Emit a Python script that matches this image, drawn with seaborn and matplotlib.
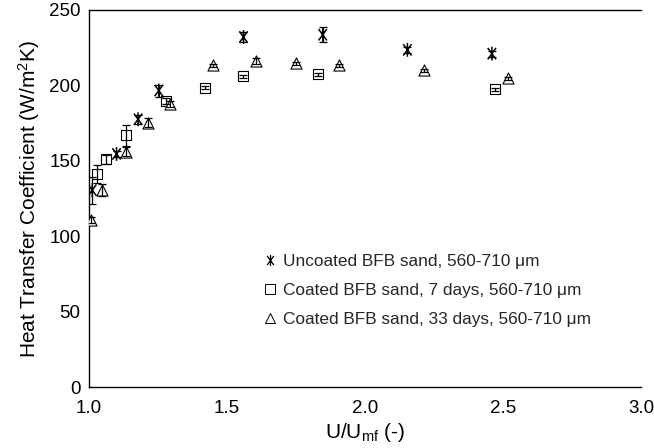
import matplotlib
matplotlib.use("Agg")
import matplotlib.pyplot as plt
from matplotlib.lines import Line2D
from matplotlib.path import Path
import seaborn as sns
import pandas as pd

# ---- data ----
unc_x = [1.012, 1.10, 1.178, 1.253, 1.56, 1.847, 2.154, 2.46]
unc_y = [130.5, 154.5, 177.5, 196.5, 232.0, 233.5, 223.5, 221.0]
unc_e = [9, 2, 3, 4, 3, 5, 2, 2]

c7_x = [1.03, 1.061, 1.136, 1.279, 1.42, 1.56, 1.83, 2.47]
c7_y = [141.0, 151.0, 167.0, 189.7, 198.4, 206.0, 207.4, 197.3]
c7_e = [6, 3, 7, 2, 1, 1, 1, 1]

c33_x = [1.009, 1.049, 1.133, 1.215, 1.293, 1.45, 1.606, 1.749, 1.905, 2.215, 2.52]
c33_y = [111.0, 130.5, 155.9, 175.1, 187.5, 213.4, 216.3, 214.5, 213.4, 210.0, 204.6]
c33_e = [2, 4, 3, 3, 2, 1, 2, 1, 1, 1, 1]

labels = ["Uncoated BFB sand, 560-710 \u03bcm",
          "Coated BFB sand, 7 days, 560-710 \u03bcm",
          "Coated BFB sand, 33 days, 560-710 \u03bcm"]
x_ticks = [1.0, 1.5, 2.0, 2.5, 3.0]
y_ticks = [0, 50, 100, 150, 200, 250]

sns.set_theme(style="white")
plt.rcParams["font.family"] = ["Liberation Sans", "DejaVu Sans"]
plt.rcParams["mathtext.fontset"] = "custom"
plt.rcParams["mathtext.rm"] = "Liberation Sans"
plt.rcParams["mathtext.it"] = "Liberation Sans"

# asterisk-like marker: vertical stroke plus an X
star = Path([(0, -1), (0, 1), (-0.6, -0.82), (0.6, 0.82), (-0.6, 0.82), (0.6, -0.82)],
            [Path.MOVETO, Path.LINETO, Path.MOVETO, Path.LINETO, Path.MOVETO, Path.LINETO])

fig = plt.figure(figsize=(6.54, 4.48), dpi=100)
ax = fig.add_axes([0.136, 0.136, 0.844, 0.842])

series = [
    (unc_x, unc_y, unc_e, star, 10, labels[0]),
    (c7_x, c7_y, c7_e, "s", 7, labels[1]),
    (c33_x, c33_y, c33_e, "^", 8, labels[2]),
]

for xs, ys, es, mk, ms, lab in series:
    df = pd.DataFrame({"x": xs, "y": ys, "e": es})
    if mk is star:
        sns.scatterplot(data=df, x="x", y="y", marker=mk, s=ms**2, facecolor="none",
                        edgecolor="black", linewidth=1.1, ax=ax, zorder=3, legend=False)
    else:
        sns.scatterplot(data=df, x="x", y="y", marker=mk, s=ms**2, facecolor="white",
                        edgecolor="black", linewidth=0.8, ax=ax, zorder=3, legend=False)
    ax.errorbar(df["x"], df["y"], yerr=df["e"], fmt="none", ecolor="black",
                elinewidth=0.9, capsize=3.2, capthick=0.9, zorder=4)

ax.set_xlim(1.0, 3.0)
ax.set_ylim(0, 250)
ax.set_xticks(x_ticks)
ax.set_xticklabels([f"{v:.1f}" for v in x_ticks])
ax.set_yticks(y_ticks)
ax.tick_params(axis="both", direction="out", length=5, width=1, color="black",
               labelsize=13.5, labelcolor="black")
ax.tick_params(axis="x", pad=4)
ax.tick_params(axis="y", pad=1)
for side in ["left", "bottom", "top"]:
    ax.spines[side].set_visible(True)
    ax.spines[side].set_color("black")
    ax.spines[side].set_linewidth(1.0)
ax.spines["right"].set_visible(False)

ax.set_xlabel("U/U$_{\\mathrm{mf}}$ (-)", fontsize=15, color="black", labelpad=3)
ax.set_ylabel("Heat Transfer Coefficient (W/m$^{2}$K)", fontsize=15, color="black", labelpad=5)

handles = [
    Line2D([], [], marker=star, color="black", mfc="none", ls="none", markersize=8, markeredgewidth=0.9),
    Line2D([], [], marker="s", color="black", mfc="white", ls="none", markersize=6.5, markeredgewidth=0.7),
    Line2D([], [], marker="^", color="black", mfc="white", ls="none", markersize=7, markeredgewidth=0.7),
]
ax.legend(handles, labels, loc="upper left", bbox_to_anchor=(0.30, 0.375), frameon=False,
          fontsize=12.4, labelspacing=0.8, handlelength=0.8, handletextpad=0.35, borderpad=0)

fig.savefig("out.png", dpi=100)
